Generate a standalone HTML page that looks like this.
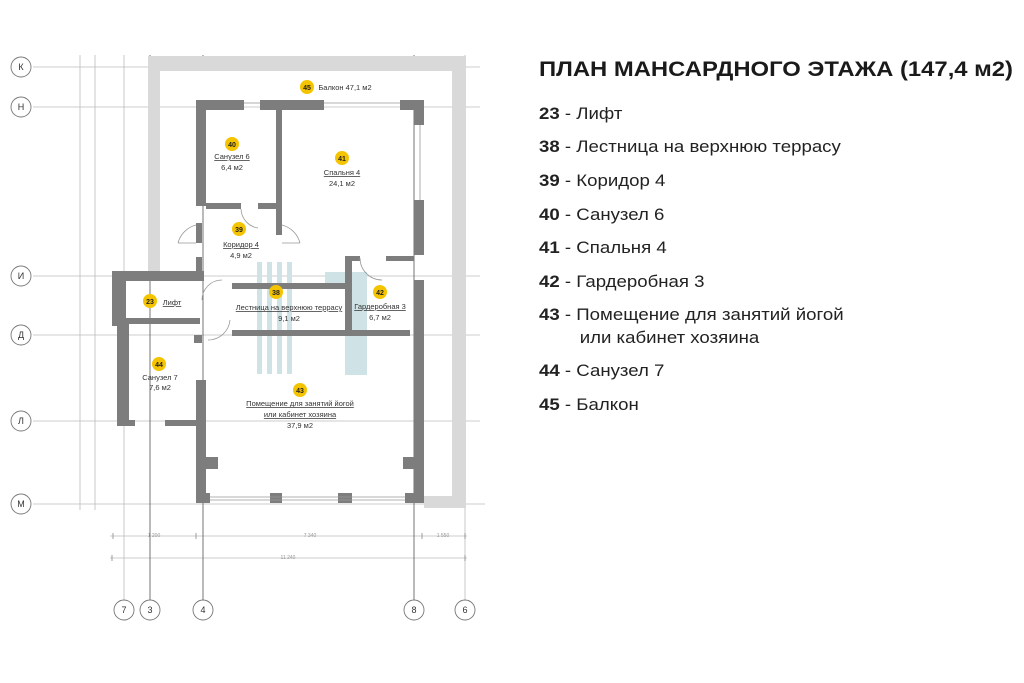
<!DOCTYPE html>
<html><head><meta charset="utf-8"><style>
html,body{margin:0;padding:0;background:#fff;}
svg{display:block;font-family:"Liberation Sans","DejaVu Sans",sans-serif;}
</style></head><body>
<svg width="1024" height="683" viewBox="0 0 1024 683" xmlns="http://www.w3.org/2000/svg">
<rect width="1024" height="683" fill="#fff"/>
<g stroke="#bbb" stroke-width="0.8">
<line x1="33" y1="67" x2="480" y2="67"/>
<line x1="33" y1="107" x2="480" y2="107"/>
<line x1="33" y1="276" x2="480" y2="276"/>
<line x1="33" y1="335" x2="480" y2="335"/>
<line x1="33" y1="421" x2="480" y2="421"/>
<line x1="33" y1="504" x2="485" y2="504"/>
<line x1="80" y1="55" x2="80" y2="510"/>
<line x1="95" y1="55" x2="95" y2="510"/>
<line x1="124" y1="55" x2="124" y2="600"/>
<line x1="465" y1="55" x2="465" y2="600"/>
<line x1="110" y1="536" x2="467" y2="536"/>
<line x1="110" y1="558" x2="467" y2="558"/>
</g>
<g stroke="#888" stroke-width="0.8">
<line x1="113" y1="533" x2="113" y2="539"/><line x1="196" y1="533" x2="196" y2="539"/>
<line x1="422" y1="533" x2="422" y2="539"/><line x1="465" y1="533" x2="465" y2="539"/>
<line x1="112" y1="555" x2="112" y2="561"/><line x1="465" y1="555" x2="465" y2="561"/>
</g>
<g stroke="#666" stroke-width="0.9">
<line x1="150" y1="55" x2="150" y2="600"/>
<line x1="203" y1="55" x2="203" y2="600"/>
<line x1="414" y1="55" x2="414" y2="600"/>
</g>
<g fill="#fff" stroke="#777" stroke-width="0.9">
<circle cx="21" cy="67" r="10"/><circle cx="21" cy="107" r="10"/><circle cx="21" cy="276" r="10"/>
<circle cx="21" cy="335" r="10"/><circle cx="21" cy="421" r="10"/><circle cx="21" cy="504" r="10"/>
<circle cx="124" cy="610" r="10"/><circle cx="150" cy="610" r="10"/><circle cx="203" cy="610" r="10"/>
<circle cx="414" cy="610" r="10"/><circle cx="465" cy="610" r="10"/>
</g>
<g font-size="9" fill="#333" text-anchor="middle">
<text x="21" y="70">К</text><text x="21" y="110">Н</text><text x="21" y="279">И</text>
<text x="21" y="338">Д</text><text x="21" y="424">Л</text><text x="21" y="507">М</text>
<text x="124" y="613">7</text><text x="150" y="613">3</text><text x="203" y="613">4</text>
<text x="414" y="613">8</text><text x="465" y="613">6</text>
</g>
<g font-size="5" fill="#999" text-anchor="middle">
<text x="154" y="537">1 200</text><text x="310" y="537">7 340</text><text x="443" y="537">1 550</text>
<text x="288" y="559">11 240</text>
</g>
<g fill="#d9d9d9">
<rect x="148" y="56" width="318" height="15"/>
<rect x="148" y="56" width="12" height="217"/>
<rect x="452" y="56" width="14" height="452"/>
<rect x="424" y="496" width="42" height="12"/>
</g>
<rect x="160" y="71" width="292" height="31" fill="#fff"/>
<g fill="#cfe3e6">
<rect x="257" y="262" width="5" height="112"/><rect x="267" y="262" width="5" height="112"/>
<rect x="277" y="262" width="5" height="112"/><rect x="287" y="262" width="5" height="112"/>
<rect x="345" y="272" width="22" height="103"/><rect x="325" y="272" width="30" height="12"/>
</g>
<g fill="#7d7d7d">
<rect x="196" y="100" width="48" height="10"/>
<rect x="260" y="100" width="64" height="10"/>
<rect x="400" y="100" width="24" height="10"/>
<rect x="414" y="100" width="10" height="25"/>
<rect x="414" y="200" width="10" height="55"/>
<rect x="196" y="100" width="10" height="106"/>
<rect x="276" y="110" width="6" height="125"/>
<rect x="206" y="203" width="35" height="6"/>
<rect x="258" y="203" width="20" height="6"/>
<rect x="196" y="223" width="6" height="20"/>
<rect x="196" y="257" width="6" height="20"/>
<rect x="112" y="271" width="92" height="10"/>
<rect x="112" y="271" width="14" height="55"/>
<rect x="126" y="318" width="74" height="6"/>
<rect x="117" y="324" width="12" height="102"/>
<rect x="129" y="420" width="6" height="6"/>
<rect x="165" y="420" width="35" height="6"/>
<rect x="194" y="335" width="8" height="8"/>
<rect x="196" y="380" width="10" height="120"/>
<rect x="232" y="283" width="115" height="6"/>
<rect x="232" y="330" width="178" height="6"/>
<rect x="345" y="256" width="7" height="80"/>
<rect x="345" y="256" width="15" height="5"/>
<rect x="386" y="256" width="28" height="5"/>
<rect x="414" y="280" width="10" height="220"/>
<rect x="196" y="493" width="14" height="10"/>
<rect x="270" y="493" width="12" height="10"/>
<rect x="338" y="493" width="14" height="10"/>
<rect x="405" y="493" width="19" height="10"/>
<rect x="206" y="457" width="12" height="12"/>
<rect x="403" y="457" width="12" height="12"/>
</g>
<g stroke="#999" stroke-width="0.8" fill="none">
<line x1="210" y1="497" x2="405" y2="497"/><line x1="210" y1="500" x2="405" y2="500"/>
<line x1="244" y1="103" x2="260" y2="103"/><line x1="324" y1="103" x2="400" y2="103"/>
<line x1="420" y1="125" x2="420" y2="200"/>
<path d="M178 243 A25 25 0 0 1 196 225"/><path d="M300 243 A25 25 0 0 0 282 225"/>
<path d="M241 209 A20 20 0 0 0 258 228"/><path d="M208 340 A22 22 0 0 0 230 320"/>
<path d="M360 258 A22 22 0 0 0 382 280"/>
<path d="M202 300 A20 20 0 0 1 222 280"/>
<line x1="178" y1="243" x2="196" y2="243"/><line x1="282" y1="243" x2="300" y2="243"/>
</g>
<g fill="#f5c400">
<circle cx="307" cy="87" r="7"/><circle cx="232" cy="144" r="7"/><circle cx="342" cy="158" r="7"/>
<circle cx="239" cy="229" r="7"/><circle cx="150" cy="301" r="7"/><circle cx="276" cy="292" r="7"/>
<circle cx="380" cy="292" r="7"/><circle cx="159" cy="364" r="7"/><circle cx="300" cy="390" r="7"/>
</g>
<g font-size="7" font-weight="bold" fill="#222" text-anchor="middle">
<text x="307" y="90">45</text><text x="232" y="147">40</text><text x="342" y="161">41</text>
<text x="239" y="232">39</text><text x="150" y="304">23</text><text x="276" y="295">38</text>
<text x="380" y="295">42</text><text x="159" y="367">44</text><text x="300" y="393">43</text>
</g>
<g font-size="7.5" fill="#333" text-anchor="middle">
<text x="345" y="90">Балкон  47,1 м2</text>
<text x="232" y="159" text-decoration="underline">Санузел 6</text><text x="232" y="170">6,4 м2</text>
<text x="342" y="175" text-decoration="underline">Спальня 4</text><text x="342" y="186">24,1 м2</text>
<text x="241" y="247" text-decoration="underline">Коридор 4</text><text x="241" y="258">4,9 м2</text>
<text x="172" y="305" text-decoration="underline">Лифт</text>
<text x="289" y="310" text-decoration="underline">Лестница на верхнюю террасу</text><text x="289" y="321">9,1 м2</text>
<text x="380" y="309" text-decoration="underline">Гардеробная 3</text><text x="380" y="320">6,7 м2</text>
<text x="160" y="380">Санузел 7</text><text x="160" y="390">7,6 м2</text>
<text x="300" y="406" text-decoration="underline">Помещение для занятий йогой</text>
<text x="300" y="417" text-decoration="underline">или кабинет хозяина</text>
<text x="300" y="428">37,9 м2</text>
</g>
<text x="539" y="76" font-size="21" font-weight="bold" fill="#1a1a1a" textLength="474" lengthAdjust="spacingAndGlyphs">ПЛАН МАНСАРДНОГО ЭТАЖА (147,4 м2)</text>
<g font-size="16.5" fill="#222" transform="scale(1.13,1)">
<text x="477" y="119"><tspan font-weight="bold">23</tspan> - Лифт</text>
<text x="477" y="152"><tspan font-weight="bold">38</tspan> - Лестница на верхнюю террасу</text>
<text x="477" y="186"><tspan font-weight="bold">39</tspan> - Коридор 4</text>
<text x="477" y="220"><tspan font-weight="bold">40</tspan> - Санузел 6</text>
<text x="477" y="253"><tspan font-weight="bold">41</tspan> - Спальня 4</text>
<text x="477" y="287"><tspan font-weight="bold">42</tspan> - Гардеробная 3</text>
<text x="477" y="320"><tspan font-weight="bold">43</tspan> - Помещение для занятий йогой</text>
<text x="513" y="343">или кабинет хозяина</text>
<text x="477" y="376"><tspan font-weight="bold">44</tspan> - Санузел 7</text>
<text x="477" y="410"><tspan font-weight="bold">45</tspan> - Балкон</text>
</g>
</svg>
</body></html>
